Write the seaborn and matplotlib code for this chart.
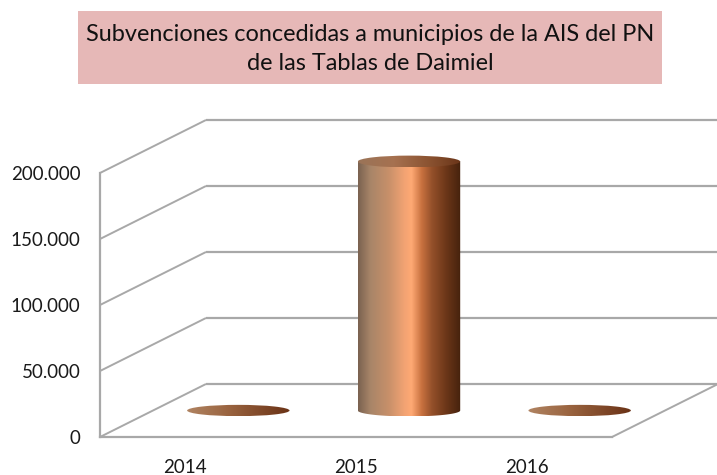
import numpy as np
import pandas as pd
import matplotlib
matplotlib.use("Agg")
import matplotlib.pyplot as plt
import seaborn as sns
from matplotlib.colors import LinearSegmentedColormap
from matplotlib.patches import Polygon, Ellipse, Rectangle
from matplotlib.ticker import FuncFormatter

# --- data -------------------------------------------------------------
years = ["2014", "2015", "2016"]
amounts = [0, 188600, 0]
y_ticks = [0, 50000, 100000, 150000, 200000]
title_lines = ["Subvenciones concedidas a municipios de la AIS del PN",
               "de las Tablas de Daimiel"]

sns.set_theme(style="white")
plt.rcParams["font.family"] = ["Lato", "DejaVu Sans"]

W, H = 717, 475
fig = plt.figure(figsize=(W / 100, H / 100), dpi=100)
ax = fig.add_axes([0, 0, 1, 1])

df = pd.DataFrame({"year": years, "amount": amounts})
sns.barplot(data=df, x="year", y="amount", width=0.6, ax=ax, color="#c8906a")

# oblique depth of the 3D box, in data units
DX = 0.621
DY = 40150
X0, X1 = -0.5, 2.5
GRID = "#a8a8a8"

# walls: side diagonals and back-wall gridlines
for v in y_ticks:
    ax.plot([X0, X0 + DX], [v, v + DY], color=GRID, lw=1.4, zorder=1,
            solid_capstyle="butt")
    ax.plot([X0 + DX, X1 + DX], [v + DY, v + DY], color=GRID, lw=1.6,
            zorder=1, solid_capstyle="butt")
# right edge of the floor
ax.plot([X1, X1 + DX], [0, DY], color=GRID, lw=1.4, zorder=1)

# cylinder shading
body_cmap = LinearSegmentedColormap.from_list("body", [
    (0.00, "#7a6250"), (0.12, "#a88568"), (0.30, "#c8906a"),
    (0.45, "#f2a373"), (0.52, "#ffa974"), (0.62, "#c8713f"),
    (0.72, "#94502a"), (0.86, "#6b3618"), (1.00, "#45220d")])
cap_cmap = LinearSegmentedColormap.from_list("cap", [
    (0.00, "#9a7458"), (0.35, "#a67150"), (0.70, "#8a5230"),
    (1.00, "#6a3519")])
disk_cmap = LinearSegmentedColormap.from_list("disk", [
    (0.00, "#b08462"), (0.40, "#9a6440"), (1.00, "#6a3216")])

grad = np.linspace(0, 1, 256).reshape(1, -1)
B = 4500  # vertical semi-axis of the ellipses

for patch in list(ax.patches):
    w = patch.get_width()
    h = patch.get_height()
    cx = patch.get_x() + w / 2 + DX / 2
    base = DY / 2
    top = base + h
    left, right = cx - w / 2, cx + w / 2
    patch.set_visible(False)
    if h > 0:
        t = np.linspace(np.pi, 2 * np.pi, 60)
        outline = [(left, top)] + list(zip(cx + w / 2 * np.cos(t),
                                           base + B * np.sin(t))) + [(right, top)]
        body = Polygon(outline, closed=True, transform=ax.transData,
                       facecolor="none", edgecolor="none")
        ax.add_patch(body)
        im = ax.imshow(grad, cmap=body_cmap, aspect="auto",
                       extent=[left, right, base - B, top],
                       interpolation="bilinear", zorder=3)
        im.set_clip_path(body)
        cap = Ellipse((cx, top), w, 2 * B, transform=ax.transData,
                      facecolor="none", edgecolor="none")
        ax.add_patch(cap)
        im2 = ax.imshow(grad, cmap=cap_cmap, aspect="auto",
                        extent=[left, right, top - B, top + B],
                        interpolation="bilinear", zorder=4)
        im2.set_clip_path(cap)
    else:
        disk = Ellipse((cx, base), w, 1.9 * B, transform=ax.transData,
                       facecolor="none", edgecolor="none")
        ax.add_patch(disk)
        im3 = ax.imshow(grad, cmap=disk_cmap, aspect="auto",
                        extent=[left, right, base - B, base + B],
                        interpolation="bilinear", zorder=3)
        im3.set_clip_path(disk)

# front axes of the box
for s in ["top", "right"]:
    ax.spines[s].set_visible(False)
ax.spines["left"].set_position(("data", X0))
ax.spines["left"].set_bounds(0, 200000)
ax.spines["bottom"].set_position(("data", 0))
ax.spines["bottom"].set_bounds(X0, X1)
for s in ["left", "bottom"]:
    ax.spines[s].set_color(GRID)
    ax.spines[s].set_linewidth(1.6)
    ax.spines[s].set_zorder(2)

ax.set_yticks(y_ticks)
ax.yaxis.set_major_formatter(FuncFormatter(lambda v, p: f"{v:,.0f}".replace(",", ".")))
ax.tick_params(axis="y", length=0, pad=14, labelsize=13.5, labelcolor="#1a1a1a")
ax.tick_params(axis="x", length=0, pad=16, labelsize=13.5, labelcolor="#1a1a1a")
ax.set_xlabel("")
ax.set_ylabel("")

ax.set_xlim(-1.0859, 3.1152)
ax.set_ylim(-28788, 331061)
ax.set_facecolor("white")

# title banner
fig.patches.append(Rectangle((78 / W, 1 - 84 / H), 584 / W, 73 / H,
                             transform=fig.transFigure, facecolor="#e6b8b7",
                             edgecolor="none", zorder=0))
fig.text(370 / W, 1 - 49 / H, "\n".join(title_lines), ha="center", va="center",
         fontsize=16.9, color="#111111", linespacing=1.45)

fig.savefig("out.png", dpi=100)
